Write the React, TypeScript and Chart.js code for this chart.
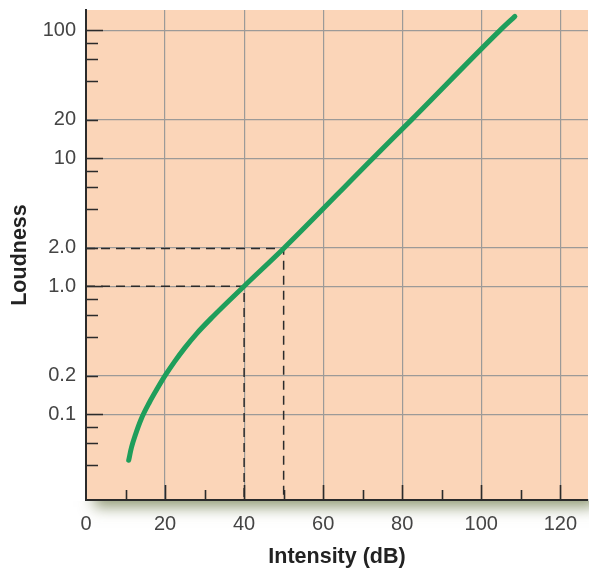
import { useEffect, useRef } from 'react';
import { Chart, registerables } from 'chart.js';

Chart.register(...registerables);

// Loudness curve: intensity (dB) vs. loudness (log scale)
const intensity = [10.8, 11.5, 12.5, 14.0, 16.0, 18.0, 20.0, 22.5, 25.0, 28.0, 32.0, 40, 50, 72.6, 82.4, 104.8, 108.5];
const loudness = [0.0437, 0.055, 0.0692, 0.0923, 0.123, 0.158, 0.2, 0.26, 0.33, 0.427, 0.575, 1.0, 1.97, 10, 20, 100, 128];

// Reference readings marked with dashed guides
const refIntensity = [40, 50];
const refLoudness = [1.0, 1.97];

// Axis ranges
const xMin = 0;
const xMax = 127;
const yMin = 0.0214;
const yMax = 143.6;

// Labelled ticks
const xTickValues = [0, 20, 40, 60, 80, 100, 120];
const yTickValues = [0.1, 0.2, 1, 2, 10, 20, 100];
const yTickLabels = ['0.1', '0.2', '1.0', '2.0', '10', '20', '100'];

// Tick marks drawn inside the panel
const yLongTicks = [100, 10, 1, 0.1];
const yShortTicks = [80, 60, 40, 20, 8, 6, 4, 2, 0.8, 0.6, 0.4, 0.2, 0.08, 0.06, 0.04];
const xLongTicks = [20, 40, 60, 80, 100, 120];
const xShortTicks = [10, 30, 50, 70, 90, 110];

const panelColor = '#fbd5b8';
const gridColor = '#9c9a98';
const inkColor = '#2b2b2b';
const curveColor = '#1f9e5b';
const labelColor = '#444444';
const labelFont = { family: '"Liberation Sans", Arial, sans-serif', size: 20 };
const titleFont = { family: '"Liberation Sans", Arial, sans-serif', size: 21.5, weight: 'bold' as const };

const panelPlugin = {
  id: 'panel',
  beforeDraw(chart: any) {
    const { ctx, chartArea: a } = chart;
    // soft drop shadow under the bottom edge
    ctx.save();
    ctx.beginPath();
    ctx.rect(0, a.bottom + 1, chart.width, 40);
    ctx.clip();
    ctx.shadowColor = 'rgba(100,112,60,0.7)';
    ctx.shadowBlur = 14;
    ctx.shadowOffsetX = 8;
    ctx.shadowOffsetY = 7;
    ctx.fillStyle = panelColor;
    ctx.fillRect(a.left, a.top, a.right - a.left, a.bottom - a.top);
    ctx.restore();
    ctx.save();
    ctx.fillStyle = panelColor;
    ctx.fillRect(a.left, a.top, a.right - a.left, a.bottom - a.top);
    ctx.restore();
  },
  afterDraw(chart: any) {
    const { ctx, chartArea: a, scales } = chart;
    const xs = scales.x;
    const ys = scales.y;
    ctx.save();
    ctx.strokeStyle = inkColor;
    ctx.lineWidth = 1.6;
    ctx.beginPath();
    const yTick = (v: number, len: number) => {
      const py = Math.round(ys.getPixelForValue(v)) + 0.5;
      ctx.moveTo(a.left, py);
      ctx.lineTo(a.left + len, py);
    };
    const xTick = (v: number, len: number) => {
      const px = Math.round(xs.getPixelForValue(v)) + 0.5;
      ctx.moveTo(px, a.bottom);
      ctx.lineTo(px, a.bottom - len);
    };
    yLongTicks.forEach((v) => yTick(v, 17));
    yShortTicks.forEach((v) => yTick(v, 12));
    xLongTicks.forEach((v) => xTick(v, 15));
    xShortTicks.forEach((v) => xTick(v, 10));
    ctx.stroke();
    ctx.restore();
  },
};

export default function App() {
  const ref = useRef<HTMLCanvasElement>(null);

  useEffect(() => {
    const curve = intensity.map((x, i) => ({ x, y: loudness[i] }));
    const guides = refIntensity.map((x, i) => ({
      label: 'guide' + i,
      data: [
        { x: xMin, y: refLoudness[i] },
        { x, y: refLoudness[i] },
        { x, y: yMin },
      ],
      borderColor: inkColor,
      borderWidth: 1.5,
      borderDash: [9, 6],
      pointRadius: 0,
      fill: false,
      tension: 0,
      order: 2,
    }));

    const chart = new Chart(ref.current!, {
      type: 'line',
      data: {
        datasets: [
          ...guides,
          {
            label: 'Loudness',
            data: curve,
            borderColor: curveColor,
            borderWidth: 5,
            borderCapStyle: 'round',
            borderJoinStyle: 'round',
            pointRadius: 0,
            fill: false,
            cubicInterpolationMode: 'monotone',
            clip: false,
            order: 0,
          },
        ] as any,
      },
      options: {
        responsive: false,
        devicePixelRatio: 1,
        animation: false,
        parsing: false as any,
        layout: { padding: { top: 10, right: 1, left: 0, bottom: 0 } },
        plugins: {
          legend: { display: false },
          tooltip: { enabled: false },
        },
        scales: {
          x: {
            type: 'linear',
            min: xMin,
            max: xMax,
            afterBuildTicks: (s: any) => {
              s.ticks = xTickValues.map((value) => ({ value }));
            },
            afterFit: (s: any) => {
              s.height = 71;
              s.paddingLeft = 0;
              s.paddingRight = 0;
            },
            grid: { color: gridColor, lineWidth: 1.2, drawTicks: false },
            border: { display: true, color: inkColor, width: 2 },
            ticks: {
              font: labelFont,
              color: labelColor,
              padding: 12,
              maxRotation: 0,
              autoSkip: false,
            },
            title: {
              display: true,
              text: 'Intensity (dB)',
              font: titleFont,
              color: '#222',
              padding: { top: 0, bottom: 1 },
            },
          },
          y: {
            type: 'logarithmic',
            min: yMin,
            max: yMax,
            afterBuildTicks: (s: any) => {
              s.ticks = yTickValues.map((value) => ({ value }));
            },
            afterFit: (s: any) => {
              s.width = 86;
              s.paddingTop = 0;
              s.paddingBottom = 0;
            },
            grid: { color: gridColor, lineWidth: 1.2, drawTicks: false },
            border: { display: true, color: inkColor, width: 2 },
            ticks: {
              font: labelFont,
              color: labelColor,
              padding: 10,
              autoSkip: false,
              callback: (_v: any, i: number) => yTickLabels[i],
            },
            title: {
              display: true,
              text: 'Loudness',
              font: titleFont,
              color: '#222',
              padding: { top: 7, bottom: 0 },
            },
          },
        },
      },
      plugins: [panelPlugin],
    });
    return () => chart.destroy();
  }, []);

  return (
    <div style={{ position: 'absolute', left: 0, top: 0, width: 589, height: 571 }}>
      <canvas ref={ref} width={589} height={571} style={{ display: 'block' }} />
    </div>
  );
}
